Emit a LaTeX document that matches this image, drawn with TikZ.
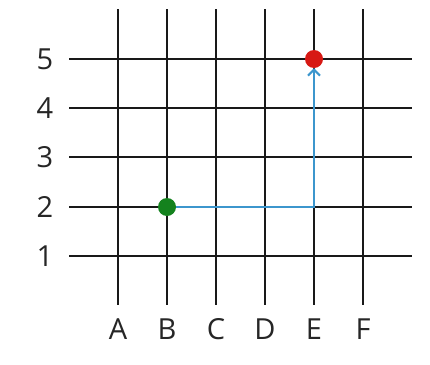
\documentclass[tikz,border=0pt]{standalone}
\usepackage{fontspec}
\setmainfont{Open Sans}
\usetikzlibrary{arrows.meta}
\definecolor{pathblue}{RGB}{60,150,205}
\definecolor{dotgreen}{RGB}{20,130,30}
\definecolor{dotred}{RGB}{215,25,20}
\begin{document}
\begin{tikzpicture}[x=1pt,y=-1pt,
  gridline/.style={line width=2pt,black!90},
  lbl/.style={font=\fontsize{29}{30}\selectfont,text=black!85,inner sep=0pt},
  dot/.style={circle,inner sep=0pt,minimum size=18pt}]
\useasboundingbox (0,0) rectangle (430,364);
\fill[white] (0,0) rectangle (430,364);
% vertical lines
\foreach \x/\l in {118/A,167/B,216/C,265/D,314/E,363/F}{
  \draw[gridline] (\x,9) -- (\x,305);
  \node[lbl] (col\l) at (\x,329) {\l};
}
% horizontal lines
\foreach \y/\l in {59/5,108/4,157/3,207/2,256/1}{
  \draw[gridline] (69,\y) -- (412,\y);
  \node[lbl] (row\l) at (45,\y) {\l};
}
\node[dot,fill=dotgreen] (start) at (167,207) {};
\node[dot,fill=dotred] (goal) at (314,59) {};
\coordinate (corner) at (314,207);
\draw[pathblue,line width=2.5pt,-{Straight Barb[length=6pt,width=12pt,line width=2pt]}]
  (start.east) -- (corner) -- (goal.south);
\end{tikzpicture}
\end{document}
